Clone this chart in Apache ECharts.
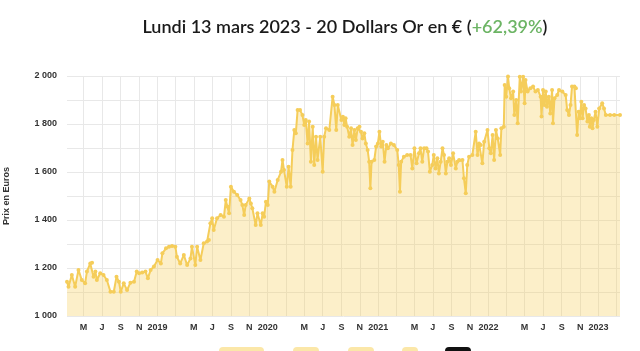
<!DOCTYPE html>
<html>
<head>
<meta charset="utf-8">
<script src="https://cdn.jsdelivr.net/npm/echarts@6/dist/echarts.min.js"></script>
<style>
    html, body {margin: 0; padding: 0; background: #fff;}
    #chart {width: 640px; height: 351px;}
</style>
</head>
<body>
<div id="chart"></div>
<script>
var dates = [
    '2018-03-07', '2018-03-12', '2018-03-23', '2018-04-03', '2018-04-14', '2018-04-25', '2018-05-06', '2018-05-12',
    '2018-05-23', '2018-05-29', '2018-06-03', '2018-06-09', '2018-06-14', '2018-06-25', '2018-07-06', '2018-07-17',
    '2018-07-29', '2018-08-09', '2018-08-18', '2018-08-26', '2018-09-01', '2018-09-11', '2018-09-22', '2018-10-03',
    '2018-10-15', '2018-10-24', '2018-11-01', '2018-11-11', '2018-11-22', '2018-11-30', '2018-12-09', '2018-12-20',
    '2019-01-01', '2019-01-12', '2019-01-17', '2019-01-29', '2019-02-08', '2019-02-18', '2019-03-01', '2019-03-06',
    '2019-03-17', '2019-03-29', '2019-04-09', '2019-04-20', '2019-04-25', '2019-05-06', '2019-05-12', '2019-05-23',
    '2019-06-03', '2019-06-14', '2019-06-20', '2019-06-25', '2019-07-01', '2019-07-06', '2019-07-17', '2019-07-29',
    '2019-08-09', '2019-08-15', '2019-08-20', '2019-08-26', '2019-09-01', '2019-09-11', '2019-09-22', '2019-10-03',
    '2019-10-09', '2019-10-15', '2019-10-20', '2019-11-01', '2019-11-06', '2019-11-11', '2019-11-22', '2019-11-28',
    '2019-12-09', '2019-12-15', '2019-12-20', '2019-12-26', '2020-01-01', '2020-01-06', '2020-01-17', '2020-01-23',
    '2020-02-03', '2020-02-14', '2020-02-19', '2020-02-24', '2020-03-04', '2020-03-10', '2020-03-17', '2020-03-23',
    '2020-03-29', '2020-04-03', '2020-04-09', '2020-04-17', '2020-04-25', '2020-05-01', '2020-05-06', '2020-05-12',
    '2020-05-17', '2020-05-23', '2020-05-29', '2020-06-03', '2020-06-09', '2020-06-14', '2020-06-23', '2020-07-01',
    '2020-07-06', '2020-07-12', '2020-07-23', '2020-08-03', '2020-08-09', '2020-08-15', '2020-08-20', '2020-09-01',
    '2020-09-06', '2020-09-11', '2020-09-15', '2020-09-20', '2020-09-27', '2020-10-03', '2020-10-08', '2020-10-14',
    '2020-10-19', '2020-10-25', '2020-10-31', '2020-11-05', '2020-11-10', '2020-11-16', '2020-11-21', '2020-11-27',
    '2020-12-02', '2020-12-06', '2020-12-10', '2020-12-19', '2020-12-25', '2020-12-31', '2021-01-05', '2021-01-11',
    '2021-01-16', '2021-01-22', '2021-01-28', '2021-02-02', '2021-02-12', '2021-02-22', '2021-03-05', '2021-03-10',
    '2021-03-14', '2021-03-18', '2021-03-27', '2021-04-07', '2021-04-18', '2021-04-24', '2021-05-01', '2021-05-08',
    '2021-05-16', '2021-05-21', '2021-05-27', '2021-06-02', '2021-06-10', '2021-06-15', '2021-06-21', '2021-06-29',
    '2021-07-04', '2021-07-10', '2021-07-16', '2021-07-21', '2021-07-27', '2021-08-02', '2021-08-07', '2021-08-13',
    '2021-08-18', '2021-08-24', '2021-08-30', '2021-09-06', '2021-09-15', '2021-09-20', '2021-09-26', '2021-10-07',
    '2021-10-12', '2021-10-18', '2021-10-23', '2021-10-29', '2021-11-09', '2021-11-20', '2021-11-26', '2021-12-01',
    '2021-12-07', '2021-12-12', '2021-12-18', '2021-12-29', '2022-01-04', '2022-01-09', '2022-01-15', '2022-01-20',
    '2022-01-26', '2022-02-01', '2022-02-09', '2022-02-13', '2022-02-21', '2022-02-24', '2022-03-01', '2022-03-07',
    '2022-03-11', '2022-03-17', '2022-03-24', '2022-03-28', '2022-04-03', '2022-04-08', '2022-04-15', '2022-04-19',
    '2022-04-26', '2022-05-01', '2022-05-04', '2022-05-11', '2022-05-20', '2022-05-29', '2022-06-06', '2022-06-14',
    '2022-06-23', '2022-06-26', '2022-07-01', '2022-07-05', '2022-07-10', '2022-07-14', '2022-07-20', '2022-07-25',
    '2022-07-31', '2022-08-03', '2022-08-08', '2022-08-17', '2022-08-23', '2022-09-03', '2022-09-14', '2022-09-19',
    '2022-09-25', '2022-09-30', '2022-10-05', '2022-10-13', '2022-10-18', '2022-10-22', '2022-10-27', '2022-10-31',
    '2022-11-05', '2022-11-09', '2022-11-14', '2022-11-19', '2022-11-25', '2022-11-30', '2022-12-03', '2022-12-08',
    '2022-12-12', '2022-12-16', '2022-12-22', '2022-12-28', '2023-01-03', '2023-01-13', '2023-01-19', '2023-01-25',
    '2023-02-08', '2023-02-22', '2023-03-13'
];
var prices = [
    1143, 1122, 1171, 1122, 1192, 1150, 1136, 1185,
    1219, 1222, 1164, 1185, 1150, 1178, 1171, 1150,
    1101, 1101, 1164, 1143, 1101, 1136, 1108, 1139,
    1143, 1185, 1178, 1181, 1185, 1157, 1192, 1206,
    1233, 1219, 1261, 1282, 1289, 1292, 1289, 1247,
    1219, 1254, 1212, 1240, 1289, 1212, 1289, 1233,
    1303, 1310, 1317, 1386, 1407, 1358, 1407, 1421,
    1414, 1483, 1456, 1428, 1539, 1518, 1504, 1483,
    1462, 1421, 1462, 1490, 1469, 1449, 1379, 1428,
    1379, 1428, 1414, 1476, 1462, 1560, 1539, 1518,
    1567, 1601, 1650, 1608, 1539, 1622, 1539, 1692,
    1775, 1761, 1858, 1858, 1837, 1796, 1817, 1719,
    1810, 1643, 1789, 1629, 1747, 1650, 1747, 1601,
    1747, 1782, 1775, 1914, 1879, 1775, 1879, 1817,
    1830, 1796, 1824, 1789, 1747, 1782, 1712, 1775,
    1733, 1782, 1789, 1768, 1740, 1761, 1719, 1692,
    1643, 1532, 1643, 1650, 1706, 1719, 1768, 1706,
    1726, 1643, 1712, 1699, 1719, 1712, 1692, 1629,
    1518, 1643, 1664, 1671, 1671, 1615, 1699, 1636,
    1678, 1699, 1643, 1699, 1699, 1685, 1601, 1629,
    1671, 1615, 1657, 1594, 1643, 1699, 1671, 1594,
    1643, 1657, 1629, 1678, 1615, 1643, 1650, 1650,
    1574, 1511, 1629, 1664, 1671, 1768, 1671, 1719,
    1712, 1636, 1726, 1775, 1699, 1678, 1754, 1650,
    1775, 1740, 1671, 1782, 1789, 1962, 1914, 1998,
    1949, 1907, 1935, 1837, 1900, 1803, 1997, 1935,
    1997, 1886, 1983, 1935, 1949, 1956, 1935, 1942,
    1914, 1831, 1942, 1879, 1935, 1872, 1914, 1844,
    1942, 1803, 1907, 1921, 1942, 1935, 1921, 1858,
    1837, 1879, 1956, 1956, 1949, 1754, 1851, 1824,
    1893, 1824, 1879, 1865, 1810, 1837, 1789, 1824,
    1782, 1817, 1851, 1789, 1865, 1886, 1865, 1837,
    1837, 1837, 1837
];
// grid lines every two months, labels skip March
var tickDates = [
    '2018-05-01', '2018-07-01', '2018-09-01', '2018-11-01',
    '2019-01-01', '2019-03-01', '2019-05-01', '2019-07-01', '2019-09-01', '2019-11-01',
    '2020-01-01', '2020-03-01', '2020-05-01', '2020-07-01', '2020-09-01', '2020-11-01',
    '2021-01-01', '2021-03-01', '2021-05-01', '2021-07-01', '2021-09-01', '2021-11-01',
    '2022-01-01', '2022-03-01', '2022-05-01', '2022-07-01', '2022-09-01', '2022-11-01',
    '2023-01-01', '2023-03-01'
];
var labelDates = [
    '2018-05-01', '2018-07-01', '2018-09-01', '2018-11-01',
    '2019-01-01', '2019-05-01', '2019-07-01', '2019-09-01', '2019-11-01',
    '2020-01-01', '2020-05-01', '2020-07-01', '2020-09-01', '2020-11-01',
    '2021-01-01', '2021-05-01', '2021-07-01', '2021-09-01', '2021-11-01',
    '2022-01-01', '2022-05-01', '2022-07-01', '2022-09-01', '2022-11-01',
    '2023-01-01'
];
var labelTexts = [
    'M', 'J', 'S', 'N',
    '2019', 'M', 'J', 'S', 'N',
    '2020', 'M', 'J', 'S', 'N',
    '2021', 'M', 'J', 'S', 'N',
    '2022', 'M', 'J', 'S', 'N',
    '2023'
];
var yTicks = [1000, 1200, 1400, 1600, 1800, 2000];

function toTime(s) {
    var p = s.split('-');
    return new Date(+p[0], +p[1] - 1, +p[2]).getTime();
}

var tickTimes = tickDates.map(toTime);
var labelTimes = labelDates.map(toTime);
var seriesData = dates.map(function (d, i) {
    return [toTime(d), prices[i]];
});

var chart = echarts.init(document.getElementById('chart'));
var lineColor = '#f5cd5a';
var labelFont = {color: '#333', fontSize: 9, fontWeight: 'bold', fontFamily: 'Liberation Sans, Arial, sans-serif'};

chart.setOption({
    animation: false,
    title: {
        text: 'Lundi 13 mars 2023 - 20 Dollars Or en € ({g|+62,39%})',
        left: 340,
        textAlign: 'center',
        top: 13,
        textStyle: {
            fontFamily: 'Lato',
            fontSize: 18,
            fontWeight: 600,
            color: '#1a1a1a',
            rich: {
                g: {fontFamily: 'Lato', fontSize: 18, fontWeight: 600, color: '#6cb464'}
            }
        }
    },
    grid: {left: 67, right: 20, top: 76, bottom: 35, outerBoundsMode: 'none'},
    xAxis: {
        type: 'value',
        min: toTime('2018-03-07'),
        max: toTime('2023-03-13'),
        axisLine: {show: false},
        axisTick: {show: false, customValues: tickTimes},
        splitLine: {show: true, lineStyle: {color: '#e8e8e8', width: 1}},
        axisLabel: {
            customValues: labelTimes,
            margin: 7,
            color: labelFont.color,
            fontSize: labelFont.fontSize,
            fontWeight: labelFont.fontWeight,
            fontFamily: labelFont.fontFamily,
            formatter: function (value) {
                var i = labelTimes.indexOf(value);
                return i >= 0 ? labelTexts[i] : '';
            }
        }
    },
    yAxis: {
        type: 'value',
        min: 1000,
        max: 2000,
        interval: 100,
        name: 'Prix en Euros',
        nameLocation: 'middle',
        nameRotate: 90,
        nameGap: 56,
        nameTextStyle: {color: '#333', fontSize: 9, fontWeight: 'bold', fontFamily: labelFont.fontFamily},
        axisLine: {show: false},
        axisTick: {show: false},
        splitLine: {lineStyle: {color: '#e8e8e8', width: 1}},
        axisLabel: {
            margin: 10,
            color: labelFont.color,
            fontSize: labelFont.fontSize,
            fontWeight: labelFont.fontWeight,
            fontFamily: labelFont.fontFamily,
            formatter: function (v) {
                if (yTicks.indexOf(v) < 0) {
                    return '';
                }
                return String(v).replace(/\B(?=(\d{3})+(?!\d))/g, ' ');
            }
        }
    },
    series: [{
        type: 'line',
        data: seriesData,
        symbol: 'circle',
        symbolSize: 4,
        showAllSymbol: true,
        lineStyle: {color: lineColor, width: 2},
        itemStyle: {color: lineColor},
        areaStyle: {color: lineColor, opacity: 0.33, origin: 'start'}
    }],
    graphic: [
        {type: 'rect', shape: {x: 219, y: 347, width: 45, height: 12, r: 4}, style: {fill: '#fbe7a8'}},
        {type: 'rect', shape: {x: 293, y: 347, width: 26, height: 12, r: 4}, style: {fill: '#fbe7a8'}},
        {type: 'rect', shape: {x: 348, y: 347, width: 26, height: 12, r: 4}, style: {fill: '#fbe7a8'}},
        {type: 'rect', shape: {x: 402, y: 347, width: 16, height: 12, r: 4}, style: {fill: '#fbe7a8'}},
        {type: 'rect', shape: {x: 445, y: 347, width: 26, height: 12, r: 4}, style: {fill: '#111'}}
    ]
});
</script>
</body>
</html>
